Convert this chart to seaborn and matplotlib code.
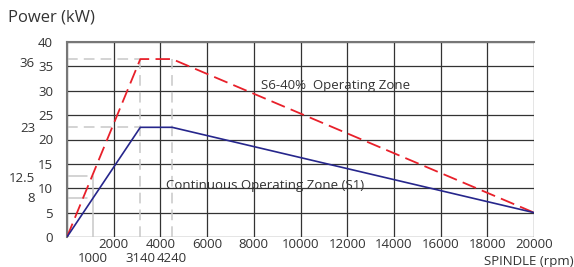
import matplotlib
matplotlib.use("Agg")
import matplotlib.pyplot as plt
import seaborn as sns
import pandas as pd
from matplotlib.transforms import blended_transform_factory

# knee positions (drawing is not to scale at the 4240 mark)
rpm = [0, 3140, 4500, 20000]
s6_power = [0, 36.5, 36.5, 5]
s1_power = [0, 22.5, 22.5, 5]
x_ticks_main = [2000, 4000, 6000, 8000, 10000, 12000, 14000, 16000, 18000, 20000]
x_extra_pos = [1100, 3140, 4500]
x_extra_labels = ["1000", "3140", "4240"]
y_ticks_main = [0, 5, 10, 15, 20, 25, 30, 35, 40]
y_extra_labels = ["36", "23", "12.5", "8"]
y_extra_pos = [35.6, 22.2, 12.1, 7.8]

sns.set_theme(style="white")
plt.rcParams['font.family'] = ['Open Sans', 'DejaVu Sans']
txt = '#333333'

fig = plt.figure(figsize=(5.74, 2.67), dpi=100)
ax = fig.add_axes([67/574, 30/267, (534-67)/574, (237-42)/267])

df = pd.DataFrame({"rpm": rpm, "s6": s6_power, "s1": s1_power})

# light grey reference lines
lg = '#c8c8c8'
ax.plot([0, rpm[1]], [s6_power[1]] * 2, color=lg, lw=1.1, dashes=(7, 4), zorder=1)
ax.plot([0, rpm[1]], [s1_power[1]] * 2, color=lg, lw=1.1, dashes=(7, 4), zorder=1)
ax.plot([rpm[1]] * 2, [0, s6_power[1]], color=lg, lw=1.1, dashes=(7, 4), zorder=1)
ax.plot([rpm[2]] * 2, [0, s6_power[2]], color=lg, lw=1.1, dashes=(7, 4), zorder=1)
ax.plot([x_extra_pos[0]] * 2, [0, 12.5], color=lg, lw=1.1, zorder=1)
ax.plot([0, 850], [12.5, 12.5], color=lg, lw=1.1, zorder=1)
ax.plot([0, 850], [8, 8], color=lg, lw=1.1, zorder=1)

sns.lineplot(data=df, x="rpm", y="s6", ax=ax, color='#e8202a', lw=1.3, zorder=4, sort=False)
ax.lines[-1].set_dashes((8, 3.5))
sns.lineplot(data=df, x="rpm", y="s1", ax=ax, color='#26268c', lw=1.2, zorder=4, sort=False)

ax.set_xlim(0, 20000)
ax.set_ylim(0, 40)
ax.set_xticks([0] + x_ticks_main)
ax.set_xticklabels([""] + [str(v) for v in x_ticks_main])
ax.set_yticks(y_ticks_main)
ax.set_yticklabels([str(v) for v in y_ticks_main])
ax.tick_params(axis='both', length=0, labelsize=9.5, colors=txt)
ax.tick_params(axis='y', pad=10)
ax.tick_params(axis='x', pad=1)
ax.grid(True, color='#333333', lw=0.9)
ax.set_axisbelow(True)
for side in ['right', 'bottom']:
    ax.spines[side].set_visible(False)
for side in ['left', 'top']:
    ax.spines[side].set_visible(True)
    ax.spines[side].set_color('#777777')
    ax.spines[side].set_linewidth(1.5)
ax.set_xlabel("")
ax.set_ylabel("")

tx = blended_transform_factory(ax.transData, ax.transAxes)
for v, lab in zip(x_extra_pos, x_extra_labels):
    ax.text(v, -0.075, lab, transform=tx, ha='center', va='top', fontsize=9.5, color=txt)

ty = blended_transform_factory(fig.transFigure, ax.transData)
for lab, v in zip(y_extra_labels, y_extra_pos):
    ax.text(35/574, v, lab, transform=ty, ha='right', va='center', fontsize=9.5, color=txt)

ax.text(11520, 31.0, "S6-40%  Operating Zone", ha='center', va='center', fontsize=9.5, color=txt)
ax.text(4240, 10.6, "Continuous Operating Zone (S1)", ha='left', va='center', fontsize=9.5, color=txt)

fig.text(8/574, 1 - 18/267, "Power (kW)", ha='left', va='center', fontsize=12, color=txt)
fig.text(1.0, 1 - 262/267, "SPINDLE (rpm)", ha='right', va='center', fontsize=9.5, color=txt)

fig.savefig("out.png", dpi=100)
